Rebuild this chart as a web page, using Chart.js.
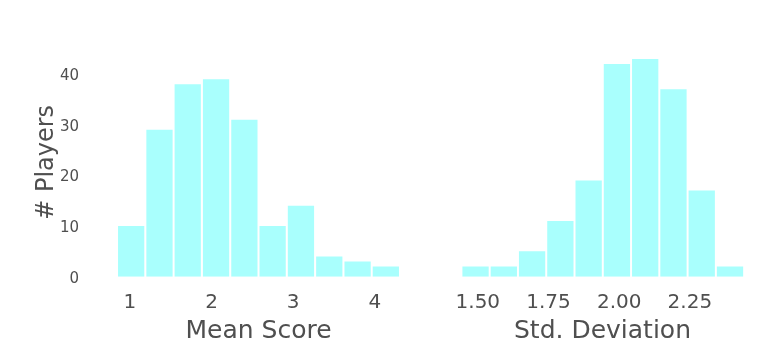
<!DOCTYPE html>
<html>
<head>
<meta charset="utf-8">
<script src="https://cdn.jsdelivr.net/npm/chart.js@4/dist/chart.umd.min.js"></script>
<style>
  html, body { margin: 0; padding: 0; background: #fff; }
  #wrap { position: relative; width: 768px; height: 359px; }
  #wrap canvas { position: absolute; left: 0; top: 0; }
</style>
</head>
<body>
<div id="wrap">
  <canvas id="meanChart" width="768" height="359"></canvas>
  <canvas id="stdChart" width="768" height="359"></canvas>
</div>
<script>
// bin centres and player counts
const meanBins = [1.015, 1.362, 1.708, 2.055, 2.402, 2.748, 3.095, 3.442, 3.789, 4.135]
const meanCounts = [10, 29, 38, 39, 31, 10, 14, 4, 3, 2]
const stdBins = [1.492, 1.592, 1.692, 1.792, 1.892, 1.992, 2.092, 2.192, 2.292, 2.392]
const stdCounts = [2, 2, 5, 11, 19, 42, 43, 37, 17, 2]

const meanTicks = [1, 2, 3, 4]
const stdTicks = [1.5, 1.75, 2.0, 2.25]
const yTicks = [0, 10, 20, 30, 40]

const barColor = '#a9fffd'
const textColor = '#4f4f4f'
const font = 'DejaVu Sans'

Chart.defaults.font.family = font
Chart.defaults.color = textColor

function histOptions(xMin, xMax, xTicks, fmt, xTitle, showY, pad){
    return {
        responsive: false,
        animation: false,
        layout: { padding: pad },
        plugins: { legend: { display: false }, tooltip: { enabled: false } },
        scales: {
            x: {
                type: 'linear',
                min: xMin,
                max: xMax,
                offset: false,
                grid: { display: false },
                border: { display: false },
                afterBuildTicks: s => { s.ticks = xTicks.map(v => ({ value: v })) },
                afterFit: s => { s.height = 82.3 },
                ticks: {
                    padding: 6,
                    autoSkip: false,
                    maxRotation: 0,
                    font: { size: 20 },
                    color: textColor,
                    callback: v => fmt(v)
                },
                title: {
                    display: true,
                    text: xTitle,
                    font: { size: 25 },
                    color: textColor,
                    padding: { top: 0, bottom: 13 }
                }
            },
            y: {
                display: showY,
                min: 0,
                max: 45.15,
                grid: { display: false },
                border: { display: false },
                afterBuildTicks: s => { s.ticks = yTicks.map(v => ({ value: v })) },
                afterFit: s => { if (showY) s.width = 103 },
                ticks: {
                    padding: 16,
                    labelOffset: 2,
                    font: { size: 15 },
                    color: textColor
                },
                title: {
                    display: showY,
                    text: '# Players',
                    font: { size: 24 },
                    color: textColor,
                    padding: { top: 32, bottom: 0 }
                }
            }
        }
    }
}

function histData(bins, counts){
    return {
        datasets: [{
            data: bins.map((b, i) => ({ x: b, y: counts[i] })),
            backgroundColor: barColor,
            borderWidth: 0,
            barPercentage: 0.93,
            categoryPercentage: 1
        }]
    }
}

new Chart(document.querySelector('#meanChart'), {
    type: 'bar',
    data: histData(meanBins, meanCounts),
    options: histOptions(0.67, 4.48, meanTicks, v => String(v), 'Mean Score', true,
        { top: 48, left: 0, right: 354, bottom: 0 })
})

new Chart(document.querySelector('#stdChart'), {
    type: 'bar',
    data: histData(stdBins, stdCounts),
    options: histOptions(1.391, 2.491, stdTicks, v => v.toFixed(2), 'Std. Deviation', false,
        { top: 48, left: 447, right: 10, bottom: 0 })
})
</script>
</body>
</html>
